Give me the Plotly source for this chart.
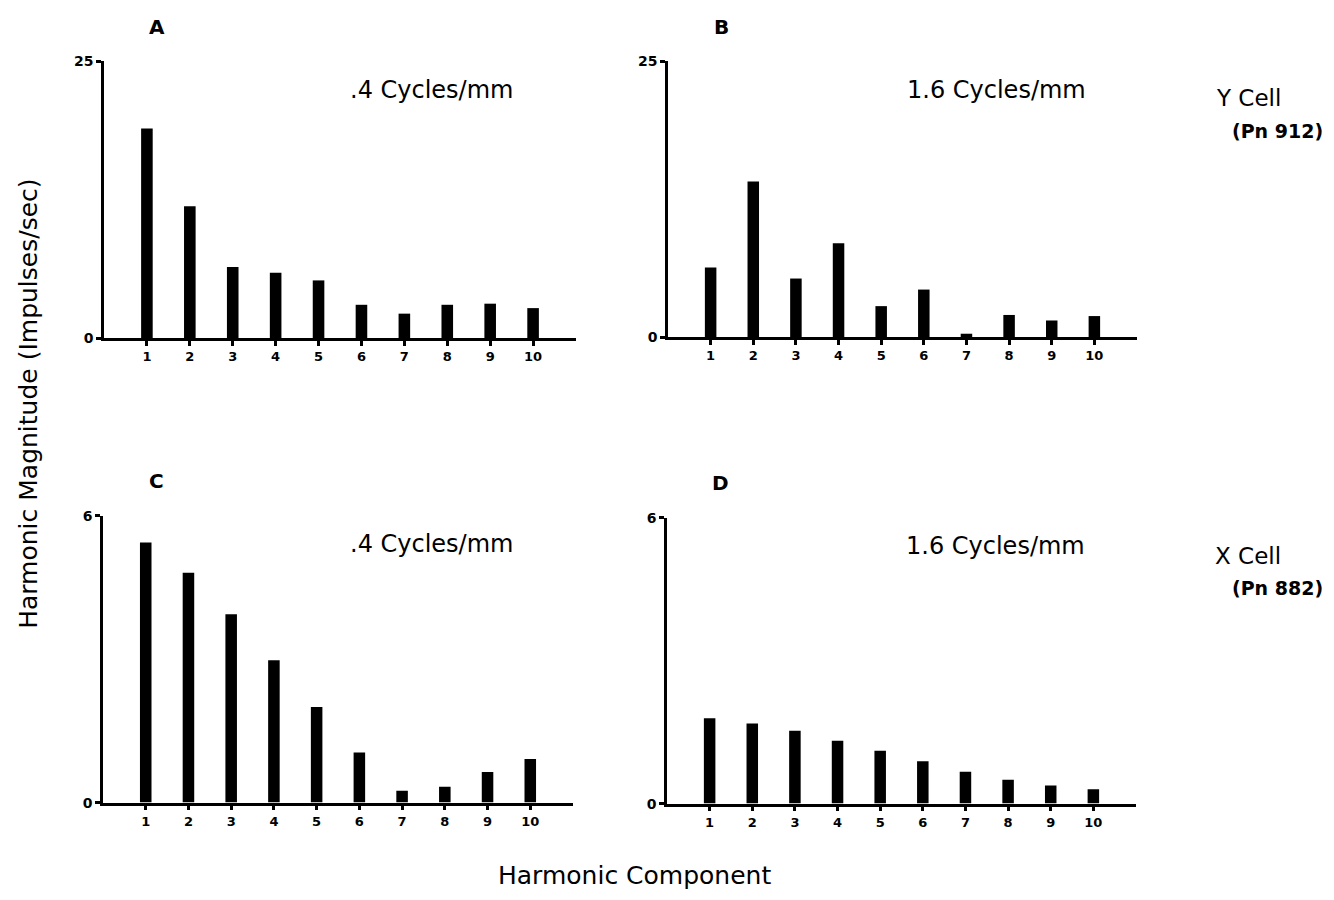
import plotly.graph_objects as go

harmonics = [1, 2, 3, 4, 5, 6, 7, 8, 9, 10]
tick_labels = ["1", "2", "3", "4", "5", "6", "7", "8", "9", "10"]

# Panel A: Y cell, .4 cycles/mm
y_cell_04 = [18.9, 11.9, 6.4, 5.9, 5.2, 3.0, 2.2, 3.0, 3.1, 2.7]
# Panel B: Y cell, 1.6 cycles/mm
y_cell_16 = [6.3, 14.1, 5.3, 8.5, 2.8, 4.3, 0.3, 2.0, 1.5, 1.9]
# Panel C: X cell, .4 cycles/mm
x_cell_04 = [5.44, 4.81, 3.94, 2.98, 2.0, 1.05, 0.25, 0.33, 0.64, 0.91]
# Panel D: X cell, 1.6 cycles/mm
x_cell_16 = [1.79, 1.68, 1.53, 1.32, 1.11, 0.89, 0.67, 0.50, 0.38, 0.30]

panels = [
    ("A", y_cell_04, 25, ".4 Cycles/mm"),
    ("B", y_cell_16, 25, "1.6 Cycles/mm"),
    ("C", x_cell_04, 6, ".4 Cycles/mm"),
    ("D", x_cell_16, 6, "1.6 Cycles/mm"),
]

W, H = 1334, 900
# pixel geometry of each panel: (left, right, top, bottom)
geom = [
    (104, 576, 54, 336),
    (668, 1137, 54, 335),
    (103, 573, 517, 809),
    (667, 1136, 519, 810),
]

FONT = "DejaVu Sans"
fig = go.Figure()
layout = dict(
    width=W, height=H,
    margin=dict(l=0, r=0, t=0, b=0),
    paper_bgcolor="white", plot_bgcolor="white",
    showlegend=False,
    font=dict(family=FONT, color="black"),
)
annotations = []

for i, ((letter, vals, ymax, cyc), (l, r, t, b)) in enumerate(zip(panels, geom)):
    n = "" if i == 0 else str(i + 1)
    fig.add_trace(go.Bar(
        x=harmonics, y=vals, width=0.27,
        marker=dict(color="black", line=dict(width=0)),
        xaxis="x" + n, yaxis="y" + n,
    ))
    layout["xaxis" + n] = dict(
        domain=[l / W, r / W], range=[0, 11], anchor="y" + n,
        showline=True, linecolor="black", linewidth=2.5,
        showgrid=False, zeroline=False,
        tickmode="array", tickvals=harmonics, ticktext=tick_labels,
        ticks="outside", ticklen=5, tickwidth=2.5, tickcolor="black",
        tickfont=dict(family=FONT, size=13, weight="bold", color="black"),
        fixedrange=True,
    )
    layout["yaxis" + n] = dict(
        domain=[1 - b / H, 1 - t / H], range=[0, ymax], anchor="x" + n,
        showline=True, linecolor="black", linewidth=2.5,
        showgrid=False, zeroline=False,
        tickmode="array", tickvals=[0, ymax], ticktext=["0", str(ymax)],
        ticks="outside", ticklen=5, tickwidth=2.5, tickcolor="black",
        tickfont=dict(family=FONT, size=14, weight="bold", color="black"),
        fixedrange=True,
    )
    # panel letter
    annotations.append(dict(
        text=letter, xref="paper", yref="paper",
        x=(l + 53) / W, y=1 - (t - 35) / H, xanchor="center", yanchor="middle",
        showarrow=False, font=dict(family=FONT, size=20, weight="bold"),
    ))
    # spatial frequency label
    annotations.append(dict(
        text=cyc, xref="paper", yref="paper",
        x=(l + 328) / W, y=1 - (t + 29) / H, xanchor="center", yanchor="middle",
        showarrow=False, font=dict(family=FONT, size=24),
    ))

annotations += [
    dict(text="Y Cell", xref="paper", yref="paper", x=1248 / W, y=1 - 92 / H,
         xanchor="center", yanchor="middle", showarrow=False,
         font=dict(family=FONT, size=23)),
    dict(text="(Pn 912)", xref="paper", yref="paper", x=1277 / W, y=1 - 125 / H,
         xanchor="center", yanchor="middle", showarrow=False,
         font=dict(family=FONT, size=19, weight="bold")),
    dict(text="X Cell", xref="paper", yref="paper", x=1248 / W, y=1 - 558 / H,
         xanchor="center", yanchor="middle", showarrow=False,
         font=dict(family=FONT, size=23)),
    dict(text="(Pn 882)", xref="paper", yref="paper", x=1277 / W, y=1 - 590 / H,
         xanchor="center", yanchor="middle", showarrow=False,
         font=dict(family=FONT, size=19, weight="bold")),
    dict(text="Harmonic Magnitude (Impulses/sec)", xref="paper", yref="paper",
         x=29 / W, y=1 - 403 / H, xanchor="center", yanchor="middle",
         textangle=-90, showarrow=False, font=dict(family=FONT, size=25)),
    dict(text="Harmonic Component", xref="paper", yref="paper",
         x=634 / W, y=1 - 883 / H, xanchor="center", yanchor="middle",
         showarrow=False, font=dict(family=FONT, size=25)),
]
layout["annotations"] = annotations
fig.update_layout(**layout)
fig.write_html("out.html")
